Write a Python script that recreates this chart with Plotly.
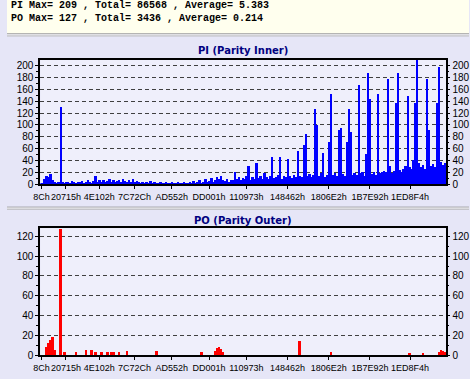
import plotly.graph_objects as go

# ---------------- data ----------------
pi_values = [
    1, 2, 8, 14, 12, 17, 6, 3, 2, 4,
    130, 3, 2, 4, 3, 2, 5, 3, 2, 4,
    3, 5, 2, 4, 6, 3, 2, 5, 14, 4,
    6, 4, 7, 3, 5, 8, 4, 6, 3, 5,
    7, 4, 9, 5, 3, 6, 4, 8, 3, 5,
    3, 2, 4, 2, 3, 2, 5, 2, 3, 2,
    2, 3, 1, 2, 4, 2, 1, 3, 2, 2,
    3, 2, 2, 4, 2, 1, 3, 2, 5, 2,
    3, 6, 2, 4, 8, 3, 5, 10, 4, 6,
    12, 8, 14, 6, 5, 9, 4, 7, 6, 20,
    8, 12, 6, 10, 9, 14, 31, 7, 11, 9,
    35, 10, 13, 8, 18, 12, 9, 14, 45, 10,
    12, 15, 45, 9, 13, 11, 43, 14, 10, 16,
    12, 55, 14, 11, 66, 84, 13, 17, 12, 15,
    127, 99, 14, 18, 53, 12, 16, 71, 152, 15,
    18, 13, 91, 94, 17, 14, 71, 126, 88, 16,
    19, 15, 167, 18, 21, 14, 50, 187, 144, 17,
    20, 16, 152, 19, 20, 22, 20, 177, 30, 18,
    22, 137, 187, 24, 20, 26, 30, 149, 28, 25,
    41, 137, 209, 35, 28, 32, 26, 178, 92, 30,
    34, 28, 137, 197, 38, 32, 35,
]

po_values = [
    0, 0, 0, 8, 12, 15, 18, 5, 0, 0,
    127, 0, 3, 0, 0, 0, 0, 0, 3, 0,
    0, 0, 0, 5, 0, 0, 5, 0, 3, 0,
    0, 3, 0, 0, 3, 0, 3, 3, 0, 0,
    3, 0, 0, 0, 4, 0, 0, 0, 0, 0,
    0, 0, 0, 0, 0, 0, 0, 0, 0, 4,
    0, 0, 0, 0, 0, 0, 0, 0, 0, 0,
    0, 0, 0, 0, 0, 0, 0, 0, 0, 0,
    0, 0, 3, 0, 0, 0, 0, 0, 0, 4,
    7, 8, 6, 3, 0, 0, 0, 0, 0, 0,
    0, 0, 0, 0, 0, 0, 0, 0, 0, 0,
    0, 0, 0, 0, 0, 0, 0, 0, 0, 0,
    0, 0, 0, 0, 0, 0, 0, 0, 0, 0,
    0, 0, 14, 0, 0, 0, 0, 0, 0, 0,
    0, 0, 0, 0, 0, 0, 0, 0, 3, 0,
    0, 0, 0, 0, 0, 0, 0, 0, 0, 0,
    0, 0, 0, 0, 0, 0, 0, 0, 0, 0,
    0, 0, 0, 0, 0, 0, 0, 0, 0, 0,
    0, 0, 0, 0, 0, 0, 0, 0, 1, 0,
    0, 0, 0, 0, 0, 2, 0, 0, 0, 0,
    0, 0, 0, 3, 5, 4, 3,
]

x_tick_labels = ["8Ch", "20715h", "4E102h", "7C72Ch", "AD552h", "DD001h",
                 "110973h", "148462h", "1806E2h", "1B7E92h", "1ED8F4h"]
x_tick_pos = [0, 12.5, 29.5, 47.5, 66.5, 85.5, 104.5, 125.5, 146.5, 167.5, 188]

pi_yticks = list(range(0, 201, 20))
po_yticks = list(range(0, 121, 20))

summary_lines = [
    "PI Max= 209 , Total= 86568 , Average= 5.383",
    "PO Max= 127 , Total= 3436 , Average= 0.214",
]
titles = ["PI (Parity Inner)", "PO (Parity Outer)"]

# ---------------- layout helpers ----------------
W, H = 470, 379
def fx(px):
    return px / W
def fy(px):
    return 1 - px / H

PL, PR = 34, 447
idx = list(range(len(pi_values)))

PAPER = "#E6E6F7"
PLOTBG = "#EFEFFB"
TICKFAM = "Liberation Sans, Arial, sans-serif"
TICKFONT_Y = dict(family=TICKFAM, size=10, color="#000000")
TICKFONT_X = dict(family=TICKFAM, size=9, color="#000000")

# tall isolated spikes are drawn thinner, as in the original
pi_widths = [0.6 if v > 45 else 1 for v in pi_values]

fig = go.Figure()
fig.add_trace(go.Bar(x=idx, y=pi_values, xaxis="x", yaxis="y", width=pi_widths,
                     marker=dict(color="#0000FF", line=dict(width=0)),
                     showlegend=False, hoverinfo="skip"))
fig.add_trace(go.Bar(x=idx, y=po_values, xaxis="x2", yaxis="y3", width=1,
                     marker=dict(color="#FF0000", line=dict(width=0)),
                     showlegend=False, hoverinfo="skip"))
# invisible traces so the right-hand label axes render
fig.add_trace(go.Scatter(x=[0], y=[0], xaxis="x", yaxis="y2", mode="markers",
                         marker=dict(opacity=0), showlegend=False, hoverinfo="skip"))
fig.add_trace(go.Scatter(x=[0], y=[0], xaxis="x2", yaxis="y4", mode="markers",
                         marker=dict(opacity=0), showlegend=False, hoverinfo="skip"))

def xaxis_cfg(anchor):
    return dict(domain=[fx(PL), fx(PR)], anchor=anchor, range=[-0.5, len(idx) - 0.5],
                tickmode="array", tickvals=x_tick_pos, ticktext=x_tick_labels,
                tickangle=0,
                ticks="outside", ticklen=3, tickcolor="#000", tickwidth=1,
                tickfont=TICKFONT_X, showgrid=False, zeroline=False,
                showline=True, linecolor="#000", linewidth=2, mirror=True,
                fixedrange=True)

def yaxis_cfg(dom, rng, ticks, anchor):
    return dict(domain=dom, anchor=anchor, range=rng, tickmode="array",
                tickvals=ticks, ticks="outside", ticklen=3, tickcolor="#000",
                tickfont=TICKFONT_Y, showgrid=True, gridcolor="#404040",
                gridwidth=1, griddash="4px,3px", zeroline=False,
                showline=True, linecolor="#000", linewidth=2, mirror=True,
                minor=dict(dtick=10, ticks="outside", ticklen=2, tickcolor="#000",
                           showgrid=False),
                fixedrange=True)

def yaxis_right_cfg(over, rng, ticks, anchor):
    return dict(overlaying=over, side="right", anchor=anchor, range=rng,
                tickmode="array", tickvals=ticks, ticks="outside", ticklen=3,
                tickcolor="#000", tickfont=TICKFONT_Y, showgrid=False,
                zeroline=False, showline=False,
                minor=dict(dtick=10, ticks="outside", ticklen=2, tickcolor="#000"),
                fixedrange=True)

pi_range = [0, 209.5]
po_range = [0, 128]

fig.update_layout(
    width=W, height=H, autosize=False,
    margin=dict(l=0, r=0, t=0, b=0),
    paper_bgcolor=PAPER, plot_bgcolor=PLOTBG,
    bargap=0, barmode="overlay",
    xaxis=xaxis_cfg("y"),
    yaxis=yaxis_cfg([fy(187), fy(61)], pi_range, pi_yticks, "x"),
    yaxis2=yaxis_right_cfg("y", pi_range, pi_yticks, "x"),
    xaxis2=xaxis_cfg("y3"),
    yaxis3=yaxis_cfg([fy(361), fy(232)], po_range, po_yticks, "x2"),
    yaxis4=yaxis_right_cfg("y3", po_range, po_yticks, "x2"),
)

shapes = [
    dict(type="rect", xref="paper", yref="paper", x0=0, x1=1, y0=fy(34), y1=1,
         fillcolor="#FFFFEE", line=dict(width=0), layer="below"),
    dict(type="line", xref="paper", yref="paper", x0=0, x1=1, y0=fy(34.5), y1=fy(34.5),
         line=dict(color="#7F7F7F", width=1)),
    dict(type="line", xref="paper", yref="paper", x0=0, x1=1, y0=fy(35.5), y1=fy(35.5),
         line=dict(color="#FFFFFF", width=1)),
    dict(type="line", xref="paper", yref="paper", x0=0, x1=1, y0=fy(36.5), y1=fy(36.5),
         line=dict(color="#B8B8B8", width=1)),
    dict(type="line", xref="paper", yref="paper", x0=0, x1=1, y0=fy(210.5), y1=fy(210.5),
         line=dict(color="#909090", width=1)),
    dict(type="line", xref="paper", yref="paper", x0=0, x1=1, y0=fy(211.5), y1=fy(211.5),
         line=dict(color="#FFFFFF", width=1)),
    dict(type="line", xref="paper", yref="paper", x0=0, x1=1, y0=fy(212.5), y1=fy(212.5),
         line=dict(color="#B0B0B0", width=1)),
]
fig.update_layout(shapes=shapes)

annotations = []
for i, line in enumerate(summary_lines):
    annotations.append(dict(text="<b>" + line + "</b>", xref="paper", yref="paper", x=fx(2),
                            y=fy(6 + 12.3 * i), xanchor="left", yanchor="middle",
                            showarrow=False,
                            font=dict(family="Liberation Mono", size=10, color="#000")))
for t, ypx in zip(titles, [51.5, 224]):
    annotations.append(dict(text="<b>" + t + "</b>", xref="paper", yref="paper",
                            x=fx((PL + PR) / 2), y=fy(ypx), xanchor="center",
                            yanchor="middle", showarrow=False,
                            font=dict(family="DejaVu Sans", size=10, color="#000080")))
fig.update_layout(annotations=annotations)

fig.write_html("out.html",
               config={"displayModeBar": False},
               post_script="document.body.style.margin='0';"
                           "document.body.style.overflow='hidden';")
